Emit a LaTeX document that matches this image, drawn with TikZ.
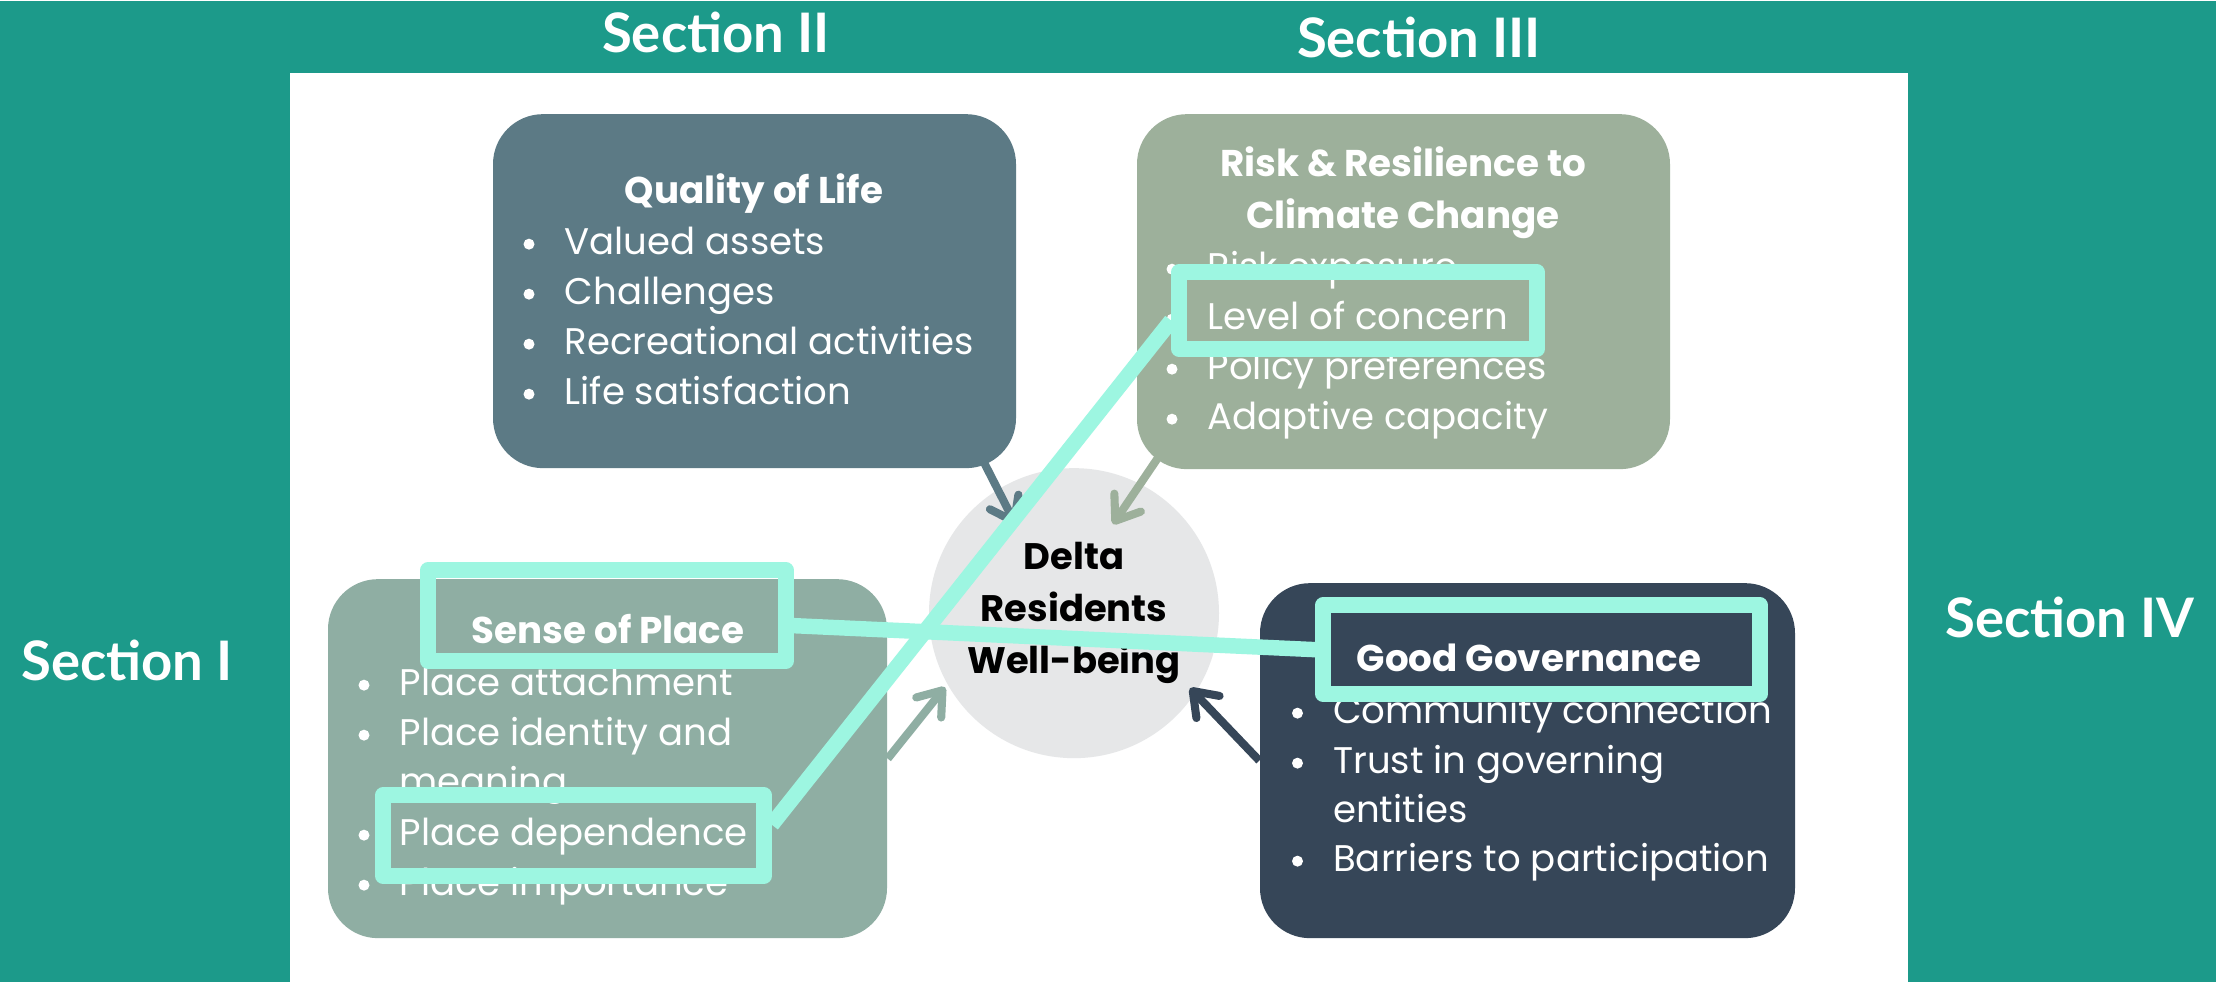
\documentclass[tikz,border=0pt]{standalone}
\usepackage{fontspec}
\setmainfont{Poppins}
\newfontfamily\latofont{Lato}
\usetikzlibrary{arrows.meta}
\definecolor{tealbg}{HTML}{1C9A8A}
\definecolor{qolc}{HTML}{5C7A85}
\definecolor{riskc}{HTML}{9DB09B}
\definecolor{sopc}{HTML}{8FAEA3}
\definecolor{govc}{HTML}{364658}
\definecolor{wellc}{HTML}{E6E7E8}
\definecolor{aqua}{HTML}{9DF6E1}
\tikzset{%
box/.style args={#1#2#3}{fill=#1,rounded corners=0.5cm,minimum width=#2cm,minimum height=#3cm,inner sep=0},
title/.style={text=white,anchor=base,align=center,font=\bfseries\fontsize{10.6}{14.8}\selectfont},
item/.style={text=white,anchor=base west,inner sep=0,font=\fontsize{10.55}{13}\selectfont},
sect/.style={text=white,font=\latofont\bfseries\fontsize{15.5}{18}\selectfont},
hl/.style args={#1#2}{draw=aqua,line width=4.4pt,line join=round,minimum width=#1cm,minimum height=#2cm,inner sep=0},
link/.style={draw=aqua,line width=4.4pt},
arr/.style={draw=#1,line width=2.3pt,-{Straight Barb[length=2.2mm,width=3.2mm,round]}},
pics/.cd,
bul/.style args={#1#2}{
  code={\fill[white] (-0.35,0.1) circle (0.055);
        \node[item] (#1) {#2};
  }
},
}

\begin{document}
\begin{tikzpicture}
  \fill[tealbg] (0,0) rectangle (22.16,9.81);
  \fill[white] (2.90,0) rectangle (19.08,9.09);
  \node[sect] (s1) at (1.27,3.22) {Section I};
  \node[sect] (s2) at (7.16,9.50) {Section II};
  \node[sect] (s3) at (14.19,9.445) {Section III};
  \node[sect] (s4) at (20.70,3.65) {Section IV};

  \node[box={qolc}{5.23}{3.54}] (qol) at (7.545,6.91) {};
  \node[box={riskc}{5.33}{3.55}] (risk) at (14.035,6.905) {};
  \node[box={sopc}{5.59}{3.59}] (sop) at (6.075,2.235) {};
  \node[box={govc}{5.35}{3.55}] (gov) at (15.275,2.215) {};
  \node[circle,fill=wellc,minimum size=2.9cm,inner sep=0,align=center,
        font=\bfseries\fontsize{10.5}{14.8}\selectfont] (well) at (10.74,3.69) {Delta\\Residents\\Well-being};

  \node[title] (qolt) at (7.54,7.79) {Quality of Life};
  \pic at (5.64,7.28) {bul={q1}{Valued assets}};
  \pic at (5.64,6.78) {bul={q2}{Challenges}};
  \pic at (5.64,6.28) {bul={q3}{Recreational activities}};
  \pic at (5.64,5.78) {bul={q4}{Life satisfaction}};

  \node[title] (riskt) at (14.03,7.54) {Risk \& Resilience to\\Climate Change};
  \pic at (12.07,7.03) {bul={r1}{Risk exposure}};
  \pic at (12.07,6.53) {bul={r2}{Level of concern}};
  \pic at (12.07,6.03) {bul={r3}{Policy preferences}};
  \pic at (12.07,5.53) {bul={r4}{Adaptive capacity}};

  \node[title] (sopt) at (6.08,3.39) {Sense of Place};
  \pic at (3.99,2.87) {bul={p1}{Place attachment}};
  \pic at (3.99,2.37) {bul={p2}{Place identity and}};
  \node[item] (p2b) at (3.99,1.88) {meaning};
  \pic at (3.99,1.37) {bul={p3}{Place dependence}};
  \pic at (3.99,0.87) {bul={p4}{Place importance}};

  \node[title] (govt) at (15.29,3.11) {Good Governance};
  \pic at (13.325,2.59) {bul={g1}{Community connection}};
  \pic at (13.325,2.09) {bul={g2}{Trust in governing}};
  \node[item] (g2b) at (13.325,1.60) {entities};
  \pic at (13.325,1.11) {bul={g3}{Barriers to participation}};

  \draw[arr=qolc] ([shift={(-0.33,0.07)}]qol.south east) -- ([shift={(-0.58,0.88)}]well.center);
  \draw[arr=riskc] ([shift={(0.25,0.17)}]risk.south west) -- ([shift={(0.39,0.89)}]well.center);
  \draw[arr=sopc] (sop.east) -- ([shift={(-1.29,-0.74)}]well.center);
  \draw[arr=govc] (gov.west) -- ([shift={(1.16,-0.75)}]well.center);

  \node[hl={3.58}{0.91}] (h1) at (6.07,3.665) {};
  \node[hl={3.58}{0.77}] (h2) at (13.58,6.715) {};
  \node[hl={3.81}{0.81}] (h3) at (5.735,1.465) {};
  \node[hl={4.37}{0.89}] (h4) at (15.415,3.325) {};
  \draw[link] ([yshift=-0.1cm]h1.east) -- (h4.west);
  \draw[link] ([yshift=0.11cm]h3.east) -- ([yshift=-0.1cm]h2.west);
\end{tikzpicture}
\end{document}
